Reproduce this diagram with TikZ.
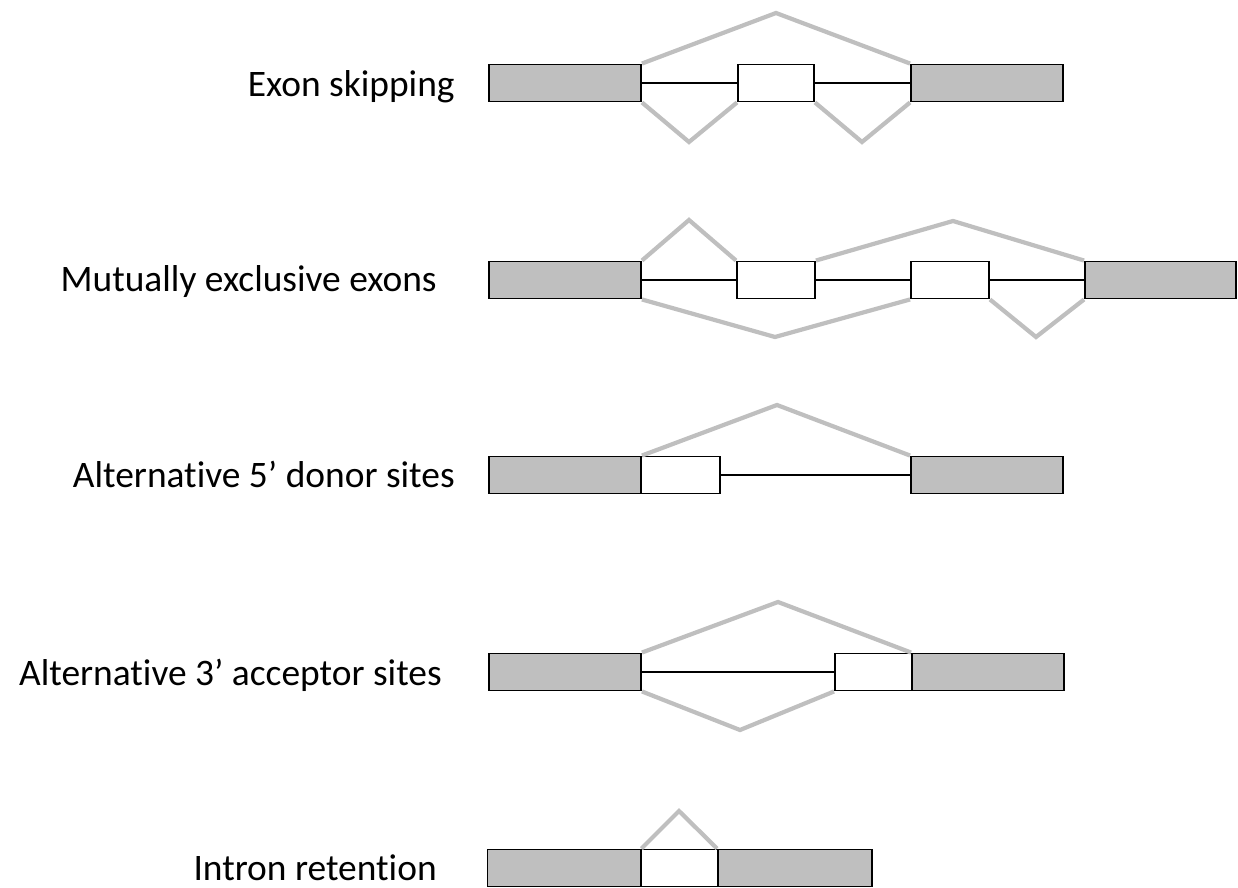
\documentclass[tikz,border=0pt]{standalone}
\usepackage{fontspec}
\setmainfont{Carlito}[Ligatures={NoCommon}]
\definecolor{gris}{RGB}{191,191,191}

\tikzstyle{exon}= [rectangle,draw,black,fill=gris,line width=1.1pt,minimum height=0.74cm,inner sep=0pt]
\tikzstyle{alt}= [rectangle,draw,black,fill=white,line width=1.1pt,minimum height=0.74cm,inner sep=0pt]
\tikzstyle{corte}= [gris,line width=2.4pt]
\tikzstyle{intron}= [black,line width=0.85pt]
\tikzstyle{nombre}= [anchor=base east,inner sep=0pt,font=\fontsize{21.3}{25}\selectfont]

\begin{document}
\begin{tikzpicture}[x=0.02cm,y=-0.02cm]

		\useasboundingbox (0,0) rectangle (1238,888);

		% Exon skipping
		\node (l1) at (455,97) [nombre] {Exon skipping};
		\node (a1) at (565,83) [exon,minimum width=3.04cm] {};
		\node (a2) at (776,83) [alt,minimum width=1.52cm] {};
		\node (a3) at (987,83) [exon,minimum width=3.04cm] {};
		\coordinate (p1) at (776,13);
		\coordinate (v1) at (689,142);
		\coordinate (v2) at (862,142);

		\draw[intron] (a1.east) -- (a2.west);
		\draw[intron] (a2.east) -- (a3.west);
		\draw[corte] (a1.north east) -- (p1) -- (a3.north west);
		\draw[corte] (a1.south east) -- (v1) -- (a2.south west);
		\draw[corte] (a2.south east) -- (v2) -- (a3.south west);

		% Mutually exclusive exons
		\node (l2) at (437,292) [nombre] {Mutually exclusive exons};
		\node (b1) at (565,280) [exon,minimum width=3.04cm] {};
		\node (b2) at (776,280) [alt,minimum width=1.56cm] {};
		\node (b3) at (950,280) [alt,minimum width=1.56cm] {};
		\node (b4) at (1160.5,280) [exon,minimum width=3.02cm] {};
		\coordinate (p2) at (689,220);
		\coordinate (p3) at (953,221);
		\coordinate (v3) at (775,337);
		\coordinate (v4) at (1036,337);

		\draw[intron] (b1.east) -- (b2.west);
		\draw[intron] (b2.east) -- (b3.west);
		\draw[intron] (b3.east) -- (b4.west);
		\draw[corte] (b1.north east) -- (p2) -- (b2.north west);
		\draw[corte] (b2.north east) -- (p3) -- (b4.north west);
		\draw[corte] (b1.south east) -- (v3) -- (b3.south west);
		\draw[corte] (b3.south east) -- (v4) -- (b4.south west);

		% Alternative 5' donor sites
		\node (l3) at (455,488) [nombre] {Alternative 5’ donor sites};
		\node (c1) at (565,475) [exon,minimum width=3.04cm] {};
		\node (c2) at (680.5,475) [alt,minimum width=1.58cm] {};
		\node (c3) at (987,475) [exon,minimum width=3.04cm] {};
		\coordinate (p4) at (777,405);

		\draw[intron] (c2.east) -- (c3.west);
		\draw[corte] (c1.north east) -- (p4) -- (c3.north west);

		% Alternative 3' acceptor sites
		\node (l4) at (442,685) [nombre] {Alternative 3’ acceptor sites};
		\node (d1) at (565,672) [exon,minimum width=3.04cm] {};
		\node (d2) at (873.5,672) [alt,minimum width=1.54cm] {};
		\node (d3) at (988,672) [exon,minimum width=3.04cm] {};
		\coordinate (p5) at (778,602);
		\coordinate (v5) at (740,730);

		\draw[intron] (d1.east) -- (d2.west);
		\draw[corte] (d1.north east) -- (p5) -- (d3.north west);
		\draw[corte] (d1.south east) -- (v5) -- (d2.south west);

		% Intron retention
		\node (l5) at (437,880) [nombre] {Intron retention};
		\node (e1) at (564,868) [exon,minimum width=3.06cm] {};
		\node (e2) at (679.5,868) [alt,minimum width=1.54cm] {};
		\node (e3) at (795,868) [exon,minimum width=3.08cm] {};
		\coordinate (p6) at (679,811);

		\draw[corte] (e1.north east) -- (p6) -- (e3.north west);

	\end{tikzpicture}
\end{document}
